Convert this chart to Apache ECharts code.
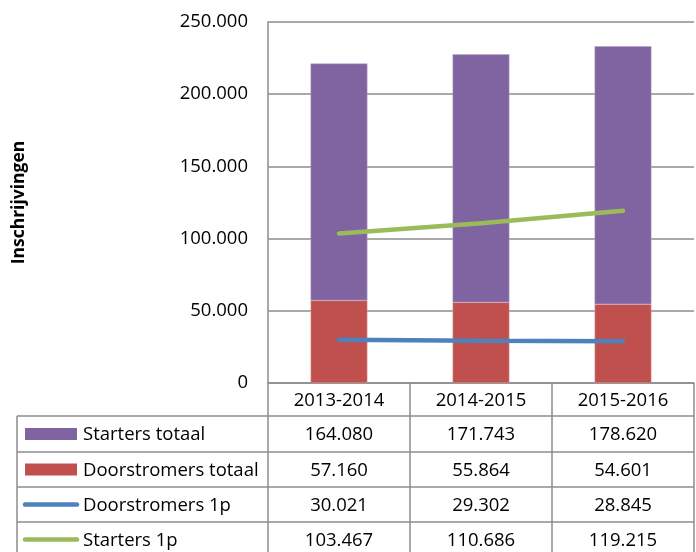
<!DOCTYPE html>
<html><head><meta charset="utf-8">
<script src="https://cdn.jsdelivr.net/npm/echarts@6/dist/echarts.min.js"></script>
<style>html,body{margin:0;padding:0;background:#fff}#c{width:696px;height:552px}</style>
</head><body><div id="c"></div>
<script>
var categories = ['2013-2014', '2014-2015', '2015-2016'];
var startersTotaal = [164080, 171743, 178620];
var doorstromersTotaal = [57160, 55864, 54601];
var doorstromers1p = [30021, 29302, 28845];
var starters1p = [103467, 110686, 119215];
var yTicks = [0, 50000, 100000, 150000, 200000, 250000];
var seriesNames = ['Starters totaal', 'Doorstromers totaal', 'Doorstromers 1p', 'Starters 1p'];

var colors = { st: '#8064A2', dt: '#C0504D', d1: '#4F81BD', s1: '#9BBB59' };
var FONT = '"Open Sans"';
var FS = 18.5;
function fmt(v) { return String(v).replace(/\B(?=(\d{3})+(?!\d))/g, '.'); }

var chart = echarts.init(document.getElementById('c'), null, { renderer: 'canvas' });
var option = {
  animation: false,
  backgroundColor: '#fff',
  textStyle: { fontFamily: FONT },
  grid: { left: 268, right: 2, top: 22, bottom: 169 },
  xAxis: {
    type: 'category', data: categories,
    axisLine: { lineStyle: { color: '#8c8c8c', width: 1.5 } },
    axisTick: { show: false }, axisLabel: { show: false }
  },
  yAxis: {
    type: 'value', min: yTicks[0], max: yTicks[yTicks.length - 1], interval: 50000,
    name: 'Inschrijvingen', nameLocation: 'middle', nameGap: 240, nameRotate: 90,
    nameTextStyle: { fontFamily: FONT, fontWeight: 'bold', fontSize: 17.5, color: '#000' },
    axisLine: { show: true, lineStyle: { color: '#8c8c8c', width: 1.5 } },
    axisTick: { show: false },
    splitLine: { lineStyle: { color: '#8c8c8c', width: 1.5 } },
    axisLabel: { fontFamily: FONT, fontSize: FS, color: '#000', margin: 20, formatter: function (v) { return fmt(v); } }
  },
  series: [
    { name: seriesNames[1], type: 'bar', stack: 'a', data: doorstromersTotaal, barWidth: '40%',
      itemStyle: { color: colors.dt, borderColor: '#d9a3a2', borderWidth: 0.5 } },
    { name: seriesNames[0], type: 'bar', stack: 'a', data: startersTotaal, barWidth: '40%',
      itemStyle: { color: colors.st, borderColor: '#b3a2c8', borderWidth: 0.5 } },
    { name: seriesNames[2], type: 'line', data: doorstromers1p, symbol: 'none', z: 5,
      lineStyle: { color: colors.d1, width: 4.5, cap: 'round' } },
    { name: seriesNames[3], type: 'line', data: starters1p, symbol: 'none', z: 5,
      lineStyle: { color: colors.s1, width: 4.5, cap: 'round' } }
  ]
};
chart.setOption(option);

// Data table under the chart, built from the arrays above
var c0 = chart.convertToPixel({ xAxisIndex: 0 }, 0);
var c1 = chart.convertToPixel({ xAxisIndex: 0 }, 1);
var band = c1 - c0;
var xStart = c0 - band / 2;
var xEnd = xStart + band * categories.length;
var y0 = chart.convertToPixel({ yAxisIndex: 0 }, 0);
var tableLeft = 17;
var rowH = [33, 36, 35, 35, 35];
var rowTops = [y0];
for (var i = 0; i < rowH.length; i++) rowTops.push(rowTops[i] + rowH[i]);
var lineC = '#8c8c8c';
var g = [];
for (var r = 1; r < rowTops.length; r++) {
  g.push({ type: 'line', shape: { x1: tableLeft, y1: rowTops[r], x2: xEnd, y2: rowTops[r] }, style: { stroke: lineC, lineWidth: 1.5 } });
}
g.push({ type: 'line', shape: { x1: tableLeft, y1: rowTops[1], x2: tableLeft, y2: 560 }, style: { stroke: lineC, lineWidth: 1.5 } });
for (var k = 0; k <= categories.length; k++) {
  var xx = xStart + band * k;
  g.push({ type: 'line', shape: { x1: xx, y1: y0, x2: xx, y2: 560 }, style: { stroke: lineC, lineWidth: 1.5 } });
}
categories.forEach(function (cat, j) {
  g.push({ type: 'text', x: xStart + band * (j + 0.5), y: rowTops[0] + rowH[0] / 2 + 1,
    style: { text: cat, font: FS + 'px ' + FONT, fill: '#000', align: 'center', verticalAlign: 'middle' } });
});
var rows = [
  { name: seriesNames[0], vals: startersTotaal, color: colors.st, key: 'rect' },
  { name: seriesNames[1], vals: doorstromersTotaal, color: colors.dt, key: 'rect' },
  { name: seriesNames[2], vals: doorstromers1p, color: colors.d1, key: 'line' },
  { name: seriesNames[3], vals: starters1p, color: colors.s1, key: 'line' }
];
rows.forEach(function (row, ri) {
  var cy = rowTops[ri + 1] + rowH[ri + 1] / 2;
  if (row.key === 'rect') {
    g.push({ type: 'rect', shape: { x: 25, y: cy - 6, width: 52, height: 12 }, style: { fill: row.color } });
  } else {
    g.push({ type: 'line', shape: { x1: 25, y1: cy, x2: 77, y2: cy }, style: { stroke: row.color, lineWidth: 4.5, lineCap: 'round' } });
  }
  g.push({ type: 'text', x: 83, y: cy + 1, style: { text: row.name, font: FS + 'px ' + FONT, fill: '#000', align: 'left', verticalAlign: 'middle' } });
  row.vals.forEach(function (v, j) {
    g.push({ type: 'text', x: xStart + band * (j + 0.5), y: cy + 1,
      style: { text: fmt(v), font: FS + 'px ' + FONT, fill: '#000', align: 'center', verticalAlign: 'middle' } });
  });
});
chart.setOption({ graphic: { elements: g } });
</script>
</body></html>
